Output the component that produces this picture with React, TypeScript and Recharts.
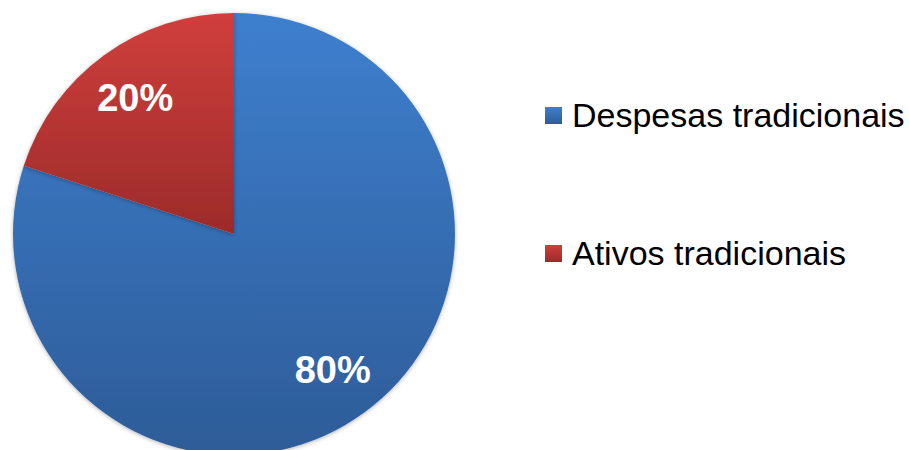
import { Cell, Legend, Pie, PieChart } from 'recharts'

const categories = ['Despesas tradicionais', 'Ativos tradicionais']
const shares = [80, 20]
const labels = ['80%', '20%']

const GRADS = [
  { id: 'gBlue', top: '#3e7fce', bottom: '#2d5c98' },
  { id: 'gRed', top: '#d03f3c', bottom: '#9c2b2a' },
]

const data = categories.map((name, i) => ({ name, value: shares[i], label: labels[i] }))

const RAD = Math.PI / 180
const FONT = '"Liberation Sans", Arial, sans-serif'

function renderLabel(p: any) {
  const r = p.outerRadius * 0.76
  const x = p.cx + r * Math.cos(-p.midAngle * RAD)
  const y = p.cy + r * Math.sin(-p.midAngle * RAD)
  return (
    <text
      x={x}
      y={y}
      fill="#fff"
      textAnchor="middle"
      dominantBaseline="central"
      fontFamily={FONT}
      fontWeight="bold"
      fontSize={38}
    >
      {p.payload.label}
    </text>
  )
}

function LegendBox() {
  return (
    <div style={{ fontFamily: FONT, fontSize: 34, color: '#000' }}>
      {data.map((d, i) => (
        <div key={d.name} style={{ display: 'flex', alignItems: 'center', height: 40, marginBottom: i === 0 ? 98 : 0 }}>
          <span
            style={{
              width: 17,
              height: 17,
              marginRight: 10,
              background: `linear-gradient(${GRADS[i].top}, ${GRADS[i].bottom})`,
              display: 'inline-block',
            }}
          />
          <span style={{ whiteSpace: 'nowrap' }}>{d.name}</span>
        </div>
      ))}
    </div>
  )
}

export default function App() {
  return (
    <div style={{ position: 'absolute', left: 0, top: 0, width: 909, height: 450, background: '#fff' }}>
      <PieChart width={909} height={450} margin={{ top: 0, right: 0, bottom: 0, left: 0 }}>
        <defs>
          {GRADS.map((g) => (
            <linearGradient key={g.id} id={g.id} x1="0" y1="0" x2="0" y2="1">
              <stop offset="0%" stopColor={g.top} />
              <stop offset="100%" stopColor={g.bottom} />
            </linearGradient>
          ))}
          <filter id="shadow" x="-10%" y="-10%" width="120%" height="120%">
            <feDropShadow dx="0" dy="1" stdDeviation="2" floodColor="#000" floodOpacity="0.3" />
          </filter>
        </defs>
        <Pie
          data={data}
          dataKey="value"
          nameKey="name"
          cx={234}
          cy={234}
          outerRadius={221}
          startAngle={90}
          endAngle={-270}
          stroke="none"
          label={renderLabel}
          labelLine={false}
          isAnimationActive={false}
          style={{ filter: 'url(#shadow)' }}
        >
          {data.map((d, i) => (
            <Cell key={d.name} fill={`url(#${GRADS[i].id})`} />
          ))}
        </Pie>
        <Legend
          content={() => <LegendBox />}
          wrapperStyle={{ position: 'absolute', left: 545, top: 95, width: 364 }}
        />
      </PieChart>
    </div>
  )
}
